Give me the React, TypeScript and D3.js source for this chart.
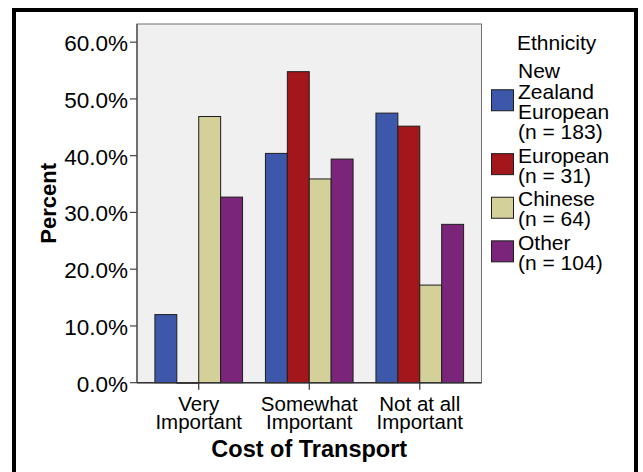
import { useRef, useEffect } from 'react';
import * as d3 from 'd3';

// categories on the x axis (two text lines each)
const categories = ['Very Important', 'Somewhat Important', 'Not at all Important'];
const categoryLines = [['Very', 'Important'], ['Somewhat', 'Important'], ['Not at all', 'Important']];

// one series per ethnicity group, percent within group
const seriesNames = ['New Zealand European', 'European', 'Chinese', 'Other'];
const seriesLegendLines = [
  ['New', 'Zealand', 'European', '(n = 183)'],
  ['European', '(n = 31)'],
  ['Chinese', '(n = 64)'],
  ['Other', '(n = 104)'],
];
const nzEuropean = [12.0, 40.4, 47.5];
const european = [0.0, 54.8, 45.2];
const chinese = [46.9, 35.9, 17.2];
const other = [32.7, 39.4, 27.9];
const seriesValues = [nzEuropean, european, chinese, other];
const seriesColors = ['#3d58aa', '#a3161b', '#d4d09a', '#7a2579'];

const yTicks = [0, 10, 20, 30, 40, 50, 60];

const FONT = '"Liberation Sans", Arial, sans-serif';

const App = () => {
  const ref = useRef(null);

  useEffect(() => {
    d3.select(ref.current).selectAll('*').remove();
    const svg = d3.select(ref.current);

    const left = 137, right = 481.5, top = 24, bottom = 382.7;

    svg.append('rect').attr('width', 643).attr('height', 472).attr('fill', '#fff');
    // outer heavy frame
    svg.append('rect')
      .attr('x', 14).attr('y', 10).attr('width', 622).attr('height', 500)
      .attr('fill', 'none').attr('stroke', '#000').attr('stroke-width', 4);

    const y = d3.scaleLinear().domain([0, 63.2]).range([bottom, top]);
    const x = d3.scaleBand().domain(categories).range([left, right])
      .paddingInner(0.207).paddingOuter(0.162);
    const xs = d3.scaleBand().domain(seriesNames).range([0, x.bandwidth()]);

    // plot background
    svg.append('rect')
      .attr('x', left).attr('y', top).attr('width', right - left).attr('height', bottom - top)
      .attr('fill', '#f0f0f0').attr('stroke', '#707070').attr('stroke-width', 1);

    // bars
    const rows = seriesNames.flatMap((s, si) =>
      categories.map((c, ci) => ({ s, si, c, v: seriesValues[si][ci] })));
    svg.append('g')
      .selectAll('rect')
      .data(rows)
      .join('rect')
      .attr('x', d => x(d.c) + xs(d.s))
      .attr('y', d => y(d.v))
      .attr('width', xs.bandwidth())
      .attr('height', d => Math.max(0.5, bottom - y(d.v)))
      .attr('fill', d => seriesColors[d.si])
      .attr('stroke', '#1e1e1e')
      .attr('stroke-width', 1);

    // axes lines
    svg.append('line').attr('x1', left).attr('x2', left).attr('y1', top).attr('y2', bottom)
      .attr('stroke', '#444').attr('stroke-width', 1.2);
    svg.append('line').attr('x1', left).attr('x2', right).attr('y1', bottom).attr('y2', bottom)
      .attr('stroke', '#333').attr('stroke-width', 1.5);

    // y ticks
    const yt = svg.append('g').attr('font-family', FONT).attr('font-size', 22.5).attr('fill', '#000');
    yt.selectAll('line').data(yTicks).join('line')
      .attr('x1', left - 7).attr('x2', left).attr('y1', d => y(d)).attr('y2', d => y(d))
      .attr('stroke', '#444').attr('stroke-width', 1.2);
    yt.selectAll('text').data(yTicks).join('text')
      .attr('x', left - 9).attr('y', d => y(d) + 9)
      .attr('text-anchor', 'end')
      .text(d => d3.format('.1f')(d) + '%');

    // x ticks and labels
    const xt = svg.append('g').attr('font-family', FONT).attr('font-size', 20.5);
    xt.selectAll('line').data(categories).join('line')
      .attr('x1', d => x(d) + x.bandwidth() / 2).attr('x2', d => x(d) + x.bandwidth() / 2)
      .attr('y1', bottom).attr('y2', bottom + 7)
      .attr('stroke', '#333').attr('stroke-width', 1.2);
    categories.forEach((c, i) => {
      xt.append('text')
        .attr('x', x(c) + x.bandwidth() / 2)
        .attr('y', 410.5)
        .attr('text-anchor', 'middle')
        .selectAll('tspan')
        .data(categoryLines[i])
        .join('tspan')
        .attr('x', x(c) + x.bandwidth() / 2)
        .attr('dy', (d, j) => (j === 0 ? 0 : 18))
        .text(d => d);
    });

    // axis titles
    svg.append('text')
      .attr('x', (left + right) / 2).attr('y', 456.5)
      .attr('text-anchor', 'middle')
      .attr('font-family', FONT).attr('font-size', 23.5).attr('font-weight', 'bold')
      .text('Cost of Transport');
    svg.append('text')
      .attr('transform', `translate(56,${(top + bottom) / 2}) rotate(-90)`)
      .attr('text-anchor', 'middle')
      .attr('font-family', FONT).attr('font-size', 22).attr('font-weight', 'bold')
      .text('Percent');

    // legend
    const lg = svg.append('g').attr('font-family', FONT).attr('font-size', 21);
    lg.append('text').attr('x', 517).attr('y', 50).text('Ethnicity');
    const lineH = 20.3;
    let base = 78.3;
    seriesNames.forEach((s, i) => {
      const lines = seriesLegendLines[i];
      const mid = base + (lines.length - 1) * lineH / 2 - 8.5;
      lg.append('rect')
        .attr('x', 491.5).attr('y', mid - 10.5).attr('width', 22).attr('height', 21)
        .attr('fill', seriesColors[i]).attr('stroke', '#1e1e1e').attr('stroke-width', 1);
      lg.append('text')
        .attr('x', 518).attr('y', base)
        .selectAll('tspan')
        .data(lines)
        .join('tspan')
        .attr('x', 518)
        .attr('dy', (d, j) => (j === 0 ? 0 : lineH))
        .text(d => d);
      base += lines.length * lineH + 3;
    });
  }, []);

  return (
    <svg ref={ref} width={643} height={472}
      style={{ position: 'absolute', left: 0, top: 0, display: 'block' }} />
  );
};

export default App;
